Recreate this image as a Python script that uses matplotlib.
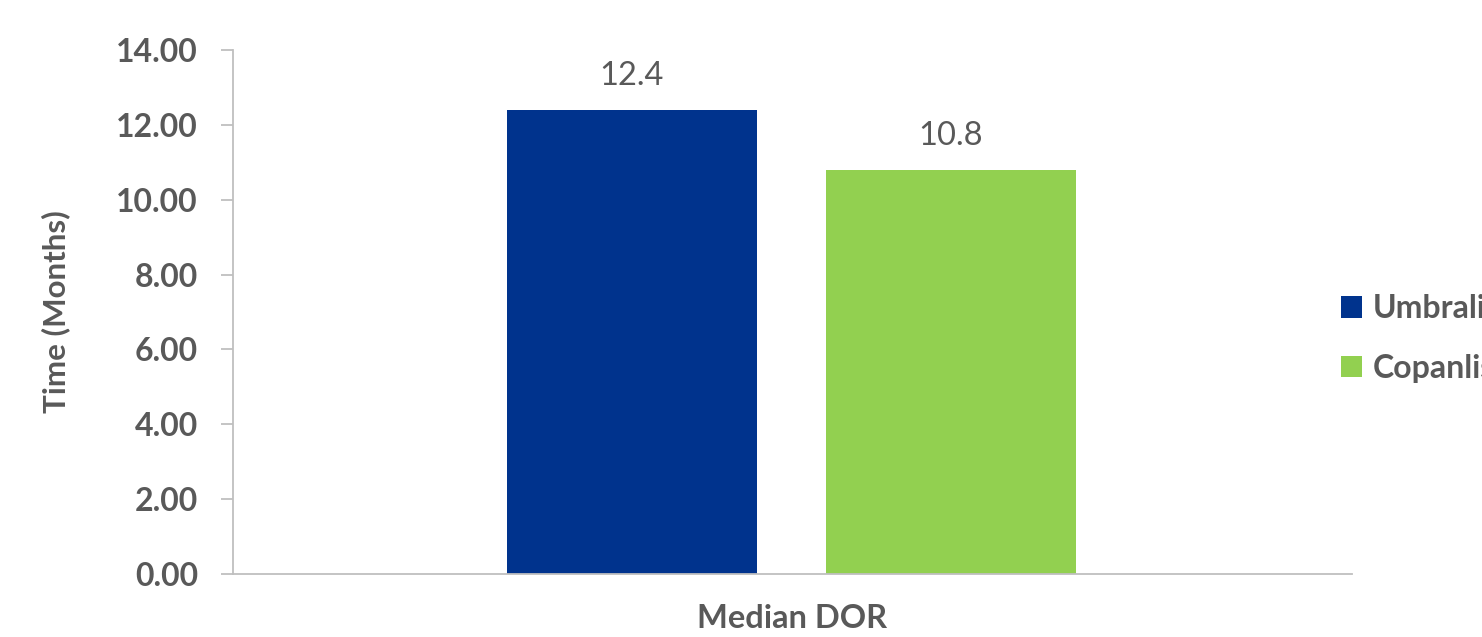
import matplotlib.pyplot as plt

plt.rcParams['font.family'] = ['Lato', 'DejaVu Sans']

category = 'Median DOR'
series = ['Umbralisib', 'Copanlisib']
values = [12.4, 10.8]
colors = ['#00338D', '#92D050']
yticks = [0, 2, 4, 6, 8, 10, 12, 14]

grey = '#595959'
fig = plt.figure(figsize=(14.82, 6.37), dpi=100)
ax = fig.add_axes([0.157, 0.099, 0.755, 0.8226])

offsets = [-0.1434, 0.1416]
bars = []
for name, v, c, off in zip(series, values, colors, offsets):
    b = ax.bar(off, v, width=0.2234, color=c, label=name)
    bars.append(b)
    ax.text(off, v + 0.5, f'{v:.1f}', ha='center', va='bottom',
            fontsize=23.5, color=grey)

ax.set_xlim(-0.5, 0.5)
ax.set_ylim(0, 14)
ax.set_yticks(yticks)
ax.set_yticklabels([f'{t:.2f}' for t in yticks], fontsize=23, fontweight='bold', color=grey)
ax.set_xticks([0])
ax.set_xticklabels([category], fontsize=23.5, fontweight='bold', color=grey)
ax.tick_params(axis='x', length=0, pad=22)
ax.tick_params(axis='y', length=9, width=1.3, color='#BFBFBF', pad=16)
ax.set_ylabel('Time (Months)', fontsize=22.5, fontweight='bold', color=grey, labelpad=33)

for s in ['top', 'right']:
    ax.spines[s].set_visible(False)
for s in ['left', 'bottom']:
    ax.spines[s].set_color('#BFBFBF')
    ax.spines[s].set_linewidth(1.3)

fig.legend(handles=[b[0] for b in bars], labels=series, loc='upper left',
           bbox_to_anchor=(0.8855, 0.583), frameon=False,
           handlelength=0.65, handleheight=0.65, handletextpad=0.35,
           labelspacing=0.95, prop={'weight': 'bold', 'size': 23},
           labelcolor=grey)

fig.savefig('out.png', dpi=100)
